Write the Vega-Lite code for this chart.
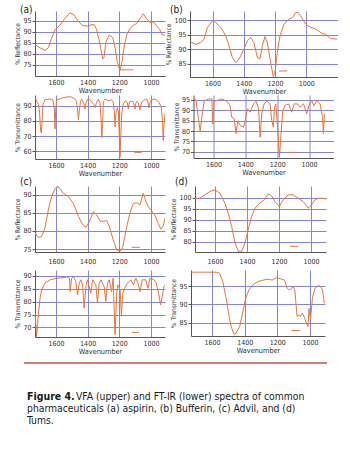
{
"$schema": "https://vega.github.io/schema/vega-lite/v6.json",
"padding": {"left": 14, "top": 5, "right": 0, "bottom": 0},
"background": "white",
"spacing": 6,
"align": "none",
"data": {"values": [
{"p":"a1","s":"c","wn":1732,"v":84.2},{"p":"a1","s":"c","wn":1700,"v":82.8},{"p":"a1","s":"c","wn":1669,"v":81.6},{"p":"a1","s":"c","wn":1648,"v":82.8},{"p":"a1","s":"c","wn":1627,"v":87.2},{"p":"a1","s":"c","wn":1606,"v":90.9},{"p":"a1","s":"c","wn":1574,"v":93.2},{"p":"a1","s":"c","wn":1543,"v":96.2},{"p":"a1","s":"c","wn":1511,"v":98.7},{"p":"a1","s":"c","wn":1486,"v":97.7},{"p":"a1","s":"c","wn":1458,"v":94.7},{"p":"a1","s":"c","wn":1431,"v":92.9},{"p":"a1","s":"c","wn":1401,"v":92.6},{"p":"a1","s":"c","wn":1380,"v":93.2},{"p":"a1","s":"c","wn":1358,"v":93.3},{"p":"a1","s":"c","wn":1343,"v":91},{"p":"a1","s":"c","wn":1322,"v":84.4},{"p":"a1","s":"c","wn":1305,"v":77.7},{"p":"a1","s":"c","wn":1297,"v":78.4},{"p":"a1","s":"c","wn":1284,"v":85.7},{"p":"a1","s":"c","wn":1263,"v":88.6},{"p":"a1","s":"c","wn":1242,"v":87.5},{"p":"a1","s":"c","wn":1227,"v":82.8},{"p":"a1","s":"c","wn":1212,"v":76.2},{"p":"a1","s":"c","wn":1196,"v":72.5},{"p":"a1","s":"c","wn":1183,"v":76.6},{"p":"a1","s":"c","wn":1171,"v":82.8},{"p":"a1","s":"c","wn":1154,"v":88.6},{"p":"a1","s":"c","wn":1133,"v":91.6},{"p":"a1","s":"c","wn":1112,"v":93},{"p":"a1","s":"c","wn":1091,"v":93.8},{"p":"a1","s":"c","wn":1070,"v":96},{"p":"a1","s":"c","wn":1049,"v":98.2},{"p":"a1","s":"c","wn":1028,"v":96},{"p":"a1","s":"c","wn":1007,"v":94.3},{"p":"a1","s":"c","wn":986,"v":94.6},{"p":"a1","s":"c","wn":965,"v":92.8},{"p":"a1","s":"c","wn":944,"v":91},{"p":"a1","s":"c","wn":929,"v":88.6},{"p":"a1","s":"c","wn":912,"v":88.6},
{"p":"a1","s":"b","wn":1196,"v":72.8},{"p":"a1","s":"b","wn":1112,"v":72.8},
{"p":"a2","s":"c","wn":1732,"v":95.8},{"p":"a2","s":"c","wn":1720,"v":93},{"p":"a2","s":"c","wn":1710,"v":91},{"p":"a2","s":"c","wn":1703,"v":85},{"p":"a2","s":"c","wn":1697,"v":74},{"p":"a2","s":"c","wn":1692,"v":72},{"p":"a2","s":"c","wn":1687,"v":80},{"p":"a2","s":"c","wn":1682,"v":91},{"p":"a2","s":"c","wn":1670,"v":94},{"p":"a2","s":"c","wn":1640,"v":94.7},{"p":"a2","s":"c","wn":1620,"v":94},{"p":"a2","s":"c","wn":1610,"v":88},{"p":"a2","s":"c","wn":1606,"v":74.7},{"p":"a2","s":"c","wn":1601,"v":88},{"p":"a2","s":"c","wn":1595,"v":94},{"p":"a2","s":"c","wn":1570,"v":95},{"p":"a2","s":"c","wn":1540,"v":95.8},{"p":"a2","s":"c","wn":1510,"v":96.2},{"p":"a2","s":"c","wn":1485,"v":95},{"p":"a2","s":"c","wn":1470,"v":93},{"p":"a2","s":"c","wn":1462,"v":86},{"p":"a2","s":"c","wn":1458,"v":80.7},{"p":"a2","s":"c","wn":1452,"v":87},{"p":"a2","s":"c","wn":1445,"v":93},{"p":"a2","s":"c","wn":1437,"v":94.5},{"p":"a2","s":"c","wn":1425,"v":92},{"p":"a2","s":"c","wn":1416,"v":88},{"p":"a2","s":"c","wn":1410,"v":92},{"p":"a2","s":"c","wn":1400,"v":94.5},{"p":"a2","s":"c","wn":1385,"v":94},{"p":"a2","s":"c","wn":1374,"v":93},{"p":"a2","s":"c","wn":1362,"v":91},{"p":"a2","s":"c","wn":1353,"v":89},{"p":"a2","s":"c","wn":1345,"v":92},{"p":"a2","s":"c","wn":1332,"v":94.5},{"p":"a2","s":"c","wn":1322,"v":92},{"p":"a2","s":"c","wn":1315,"v":80},{"p":"a2","s":"c","wn":1311,"v":69},{"p":"a2","s":"c","wn":1306,"v":75},{"p":"a2","s":"c","wn":1301,"v":93},{"p":"a2","s":"c","wn":1290,"v":94.5},{"p":"a2","s":"c","wn":1270,"v":93.5},{"p":"a2","s":"c","wn":1250,"v":94},{"p":"a2","s":"c","wn":1240,"v":93},{"p":"a2","s":"c","wn":1232,"v":87},{"p":"a2","s":"c","wn":1227,"v":76},{"p":"a2","s":"c","wn":1222,"v":85},{"p":"a2","s":"c","wn":1217,"v":87},{"p":"a2","s":"c","wn":1212,"v":89},{"p":"a2","s":"c","wn":1206,"v":86},{"p":"a2","s":"c","wn":1200,"v":70},{"p":"a2","s":"c","wn":1196,"v":56},{"p":"a2","s":"c","wn":1191,"v":70},{"p":"a2","s":"c","wn":1185,"v":85},{"p":"a2","s":"c","wn":1180,"v":88},{"p":"a2","s":"c","wn":1175,"v":91.3},{"p":"a2","s":"c","wn":1160,"v":93.6},{"p":"a2","s":"c","wn":1150,"v":92},{"p":"a2","s":"c","wn":1143,"v":88},{"p":"a2","s":"c","wn":1138,"v":92},{"p":"a2","s":"c","wn":1133,"v":93.1},{"p":"a2","s":"c","wn":1115,"v":93},{"p":"a2","s":"c","wn":1105,"v":90},{"p":"a2","s":"c","wn":1101,"v":88},{"p":"a2","s":"c","wn":1096,"v":92},{"p":"a2","s":"c","wn":1091,"v":93.1},{"p":"a2","s":"c","wn":1080,"v":92},{"p":"a2","s":"c","wn":1070,"v":87.4},{"p":"a2","s":"c","wn":1062,"v":92},{"p":"a2","s":"c","wn":1049,"v":93.6},{"p":"a2","s":"c","wn":1028,"v":94.7},{"p":"a2","s":"c","wn":1018,"v":92},{"p":"a2","s":"c","wn":1013,"v":88.7},{"p":"a2","s":"c","wn":1008,"v":92},{"p":"a2","s":"c","wn":997,"v":94},{"p":"a2","s":"c","wn":975,"v":94.7},{"p":"a2","s":"c","wn":960,"v":93.5},{"p":"a2","s":"c","wn":950,"v":92.4},{"p":"a2","s":"c","wn":935,"v":89},{"p":"a2","s":"c","wn":928,"v":80},{"p":"a2","s":"c","wn":923,"v":67},{"p":"a2","s":"c","wn":918,"v":78},{"p":"a2","s":"c","wn":912,"v":84.7},
{"p":"a2","s":"b","wn":1105,"v":59.1},{"p":"a2","s":"b","wn":1059,"v":59.1},
{"p":"b1","s":"c","wn":1745,"v":92.6},{"p":"b1","s":"c","wn":1708,"v":91.7},{"p":"b1","s":"c","wn":1676,"v":92.3},{"p":"b1","s":"c","wn":1655,"v":93.5},{"p":"b1","s":"c","wn":1633,"v":97.6},{"p":"b1","s":"c","wn":1601,"v":99.9},{"p":"b1","s":"c","wn":1580,"v":99.3},{"p":"b1","s":"c","wn":1548,"v":97.6},{"p":"b1","s":"c","wn":1516,"v":94.7},{"p":"b1","s":"c","wn":1495,"v":91.2},{"p":"b1","s":"c","wn":1473,"v":87.1},{"p":"b1","s":"c","wn":1452,"v":85.3},{"p":"b1","s":"c","wn":1431,"v":86.5},{"p":"b1","s":"c","wn":1399,"v":90},{"p":"b1","s":"c","wn":1377,"v":92.9},{"p":"b1","s":"c","wn":1356,"v":94.1},{"p":"b1","s":"c","wn":1335,"v":92.3},{"p":"b1","s":"c","wn":1313,"v":87.1},{"p":"b1","s":"c","wn":1296,"v":86.7},{"p":"b1","s":"c","wn":1281,"v":91.2},{"p":"b1","s":"c","wn":1264,"v":94.4},{"p":"b1","s":"c","wn":1249,"v":92.3},{"p":"b1","s":"c","wn":1228,"v":85.3},{"p":"b1","s":"c","wn":1211,"v":80.5},{"p":"b1","s":"c","wn":1200,"v":81.9},{"p":"b1","s":"c","wn":1185,"v":88.8},{"p":"b1","s":"c","wn":1168,"v":94.7},{"p":"b1","s":"c","wn":1142,"v":98.7},{"p":"b1","s":"c","wn":1110,"v":100.5},{"p":"b1","s":"c","wn":1088,"v":101},{"p":"b1","s":"c","wn":1067,"v":102.8},{"p":"b1","s":"c","wn":1052,"v":102.8},{"p":"b1","s":"c","wn":1035,"v":101.6},{"p":"b1","s":"c","wn":1003,"v":98.7},{"p":"b1","s":"c","wn":971,"v":97.6},{"p":"b1","s":"c","wn":937,"v":97},{"p":"b1","s":"c","wn":900,"v":95.5},{"p":"b1","s":"c","wn":876,"v":95.2},{"p":"b1","s":"c","wn":844,"v":93.7},{"p":"b1","s":"c","wn":801,"v":93.5},
{"p":"b1","s":"b","wn":1174,"v":82.4},{"p":"b1","s":"b","wn":1121,"v":82.4},
{"p":"b2","s":"c","wn":1725,"v":96.3},{"p":"b2","s":"c","wn":1709,"v":94.7},{"p":"b2","s":"c","wn":1694,"v":85.9},{"p":"b2","s":"c","wn":1683,"v":79.9},{"p":"b2","s":"c","wn":1673,"v":86.7},{"p":"b2","s":"c","wn":1658,"v":94.4},{"p":"b2","s":"c","wn":1631,"v":95.5},{"p":"b2","s":"c","wn":1610,"v":95.5},{"p":"b2","s":"c","wn":1604,"v":83.5},{"p":"b2","s":"c","wn":1596,"v":94.5},{"p":"b2","s":"c","wn":1579,"v":94.7},{"p":"b2","s":"c","wn":1548,"v":95.5},{"p":"b2","s":"c","wn":1516,"v":94.4},{"p":"b2","s":"c","wn":1496,"v":92.3},{"p":"b2","s":"c","wn":1485,"v":86.7},{"p":"b2","s":"c","wn":1470,"v":86},{"p":"b2","s":"c","wn":1458,"v":78.7},{"p":"b2","s":"c","wn":1447,"v":85},{"p":"b2","s":"c","wn":1433,"v":82.7},{"p":"b2","s":"c","wn":1411,"v":81.9},{"p":"b2","s":"c","wn":1401,"v":85},{"p":"b2","s":"c","wn":1386,"v":90.7},{"p":"b2","s":"c","wn":1370,"v":89.1},{"p":"b2","s":"c","wn":1349,"v":93.1},{"p":"b2","s":"c","wn":1332,"v":94.4},{"p":"b2","s":"c","wn":1317,"v":90.7},{"p":"b2","s":"c","wn":1307,"v":77},{"p":"b2","s":"c","wn":1297,"v":88.3},{"p":"b2","s":"c","wn":1282,"v":93.1},{"p":"b2","s":"c","wn":1265,"v":94.4},{"p":"b2","s":"c","wn":1245,"v":93.1},{"p":"b2","s":"c","wn":1234,"v":85},{"p":"b2","s":"c","wn":1224,"v":81.9},{"p":"b2","s":"c","wn":1217,"v":91.5},{"p":"b2","s":"c","wn":1209,"v":93.1},{"p":"b2","s":"c","wn":1196,"v":80.3},{"p":"b2","s":"c","wn":1186,"v":67.4},{"p":"b2","s":"c","wn":1176,"v":78.7},{"p":"b2","s":"c","wn":1165,"v":89.9},{"p":"b2","s":"c","wn":1151,"v":92.3},{"p":"b2","s":"c","wn":1129,"v":93.1},{"p":"b2","s":"c","wn":1109,"v":89.1},{"p":"b2","s":"c","wn":1094,"v":93.1},{"p":"b2","s":"c","wn":1073,"v":93.1},{"p":"b2","s":"c","wn":1057,"v":91.5},{"p":"b2","s":"c","wn":1035,"v":93.1},{"p":"b2","s":"c","wn":1015,"v":88.3},{"p":"b2","s":"c","wn":998,"v":93.1},{"p":"b2","s":"c","wn":983,"v":94.7},{"p":"b2","s":"c","wn":969,"v":92.3},{"p":"b2","s":"c","wn":952,"v":94.7},{"p":"b2","s":"c","wn":931,"v":93.1},{"p":"b2","s":"c","wn":916,"v":86.7},{"p":"b2","s":"c","wn":910,"v":78.7},{"p":"b2","s":"c","wn":904,"v":88.3},
{"p":"b2","s":"b","wn":1129,"v":69.7},{"p":"b2","s":"b","wn":1078,"v":69.7},
{"p":"c1","s":"c","wn":1732,"v":79.4},{"p":"c1","s":"c","wn":1711,"v":78.2},{"p":"c1","s":"c","wn":1690,"v":78.5},{"p":"c1","s":"c","wn":1669,"v":80.8},{"p":"c1","s":"c","wn":1648,"v":85.8},{"p":"c1","s":"c","wn":1627,"v":89.5},{"p":"c1","s":"c","wn":1606,"v":91.7},{"p":"c1","s":"c","wn":1585,"v":92.2},{"p":"c1","s":"c","wn":1553,"v":90.4},{"p":"c1","s":"c","wn":1522,"v":89.5},{"p":"c1","s":"c","wn":1490,"v":87.6},{"p":"c1","s":"c","wn":1458,"v":84},{"p":"c1","s":"c","wn":1431,"v":81.7},{"p":"c1","s":"c","wn":1410,"v":81},{"p":"c1","s":"c","wn":1389,"v":82.6},{"p":"c1","s":"c","wn":1364,"v":85.3},{"p":"c1","s":"c","wn":1343,"v":84.4},{"p":"c1","s":"c","wn":1322,"v":82.8},{"p":"c1","s":"c","wn":1301,"v":82.6},{"p":"c1","s":"c","wn":1280,"v":82.9},{"p":"c1","s":"c","wn":1263,"v":81.2},{"p":"c1","s":"c","wn":1242,"v":78},{"p":"c1","s":"c","wn":1217,"v":74.8},{"p":"c1","s":"c","wn":1196,"v":74.4},{"p":"c1","s":"c","wn":1179,"v":75.3},{"p":"c1","s":"c","wn":1158,"v":80.3},{"p":"c1","s":"c","wn":1133,"v":84.9},{"p":"c1","s":"c","wn":1112,"v":87.6},{"p":"c1","s":"c","wn":1091,"v":87.8},{"p":"c1","s":"c","wn":1070,"v":87.2},{"p":"c1","s":"c","wn":1049,"v":90.4},{"p":"c1","s":"c","wn":1032,"v":88.1},{"p":"c1","s":"c","wn":1017,"v":86.7},{"p":"c1","s":"c","wn":997,"v":85.5},{"p":"c1","s":"c","wn":976,"v":84.4},{"p":"c1","s":"c","wn":954,"v":82},{"p":"c1","s":"c","wn":938,"v":80.5},{"p":"c1","s":"c","wn":923,"v":81.5},{"p":"c1","s":"c","wn":912,"v":83.5},
{"p":"c1","s":"b","wn":1122,"v":75.5},{"p":"c1","s":"b","wn":1070,"v":75.5},
{"p":"c2","s":"c","wn":1732,"v":75.6},{"p":"c2","s":"c","wn":1722,"v":66.5},{"p":"c2","s":"c","wn":1711,"v":74.9},{"p":"c2","s":"c","wn":1700,"v":81.4},{"p":"c2","s":"c","wn":1690,"v":84.6},{"p":"c2","s":"c","wn":1669,"v":87.2},{"p":"c2","s":"c","wn":1637,"v":88.5},{"p":"c2","s":"c","wn":1595,"v":89.1},{"p":"c2","s":"c","wn":1543,"v":89.4},{"p":"c2","s":"c","wn":1532,"v":89.7},{"p":"c2","s":"c","wn":1515,"v":89.1},{"p":"c2","s":"c","wn":1510,"v":83.9},{"p":"c2","s":"c","wn":1501,"v":89.1},{"p":"c2","s":"c","wn":1489,"v":89.7},{"p":"c2","s":"c","wn":1474,"v":87.8},{"p":"c2","s":"c","wn":1464,"v":82.6},{"p":"c2","s":"c","wn":1453,"v":87.2},{"p":"c2","s":"c","wn":1443,"v":88.5},{"p":"c2","s":"c","wn":1432,"v":86.5},{"p":"c2","s":"c","wn":1422,"v":77.5},{"p":"c2","s":"c","wn":1411,"v":85.9},{"p":"c2","s":"c","wn":1401,"v":88.5},{"p":"c2","s":"c","wn":1390,"v":85.9},{"p":"c2","s":"c","wn":1380,"v":83.3},{"p":"c2","s":"c","wn":1369,"v":88.5},{"p":"c2","s":"c","wn":1348,"v":86.5},{"p":"c2","s":"c","wn":1338,"v":79.4},{"p":"c2","s":"c","wn":1327,"v":87.2},{"p":"c2","s":"c","wn":1317,"v":88.5},{"p":"c2","s":"c","wn":1296,"v":85.9},{"p":"c2","s":"c","wn":1285,"v":80.1},{"p":"c2","s":"c","wn":1275,"v":87.2},{"p":"c2","s":"c","wn":1264,"v":88.5},{"p":"c2","s":"c","wn":1249,"v":83.9},{"p":"c2","s":"c","wn":1239,"v":89.1},{"p":"c2","s":"c","wn":1227,"v":67.2},{"p":"c2","s":"c","wn":1216,"v":83.9},{"p":"c2","s":"c","wn":1208,"v":86.5},{"p":"c2","s":"c","wn":1195,"v":84.6},{"p":"c2","s":"c","wn":1187,"v":74.9},{"p":"c2","s":"c","wn":1178,"v":83.3},{"p":"c2","s":"c","wn":1166,"v":85.2},{"p":"c2","s":"c","wn":1149,"v":87.2},{"p":"c2","s":"c","wn":1128,"v":88.5},{"p":"c2","s":"c","wn":1111,"v":86.5},{"p":"c2","s":"c","wn":1096,"v":89.1},{"p":"c2","s":"c","wn":1082,"v":87.2},{"p":"c2","s":"c","wn":1070,"v":83.9},{"p":"c2","s":"c","wn":1055,"v":88.5},{"p":"c2","s":"c","wn":1034,"v":88.5},{"p":"c2","s":"c","wn":1019,"v":85.2},{"p":"c2","s":"c","wn":1007,"v":89.1},{"p":"c2","s":"c","wn":982,"v":88.5},{"p":"c2","s":"c","wn":967,"v":87.2},{"p":"c2","s":"c","wn":950,"v":82.6},{"p":"c2","s":"c","wn":940,"v":78.8},{"p":"c2","s":"c","wn":929,"v":82},{"p":"c2","s":"c","wn":919,"v":85.9},{"p":"c2","s":"c","wn":912,"v":86.5},
{"p":"c2","s":"b","wn":1122,"v":68.1},{"p":"c2","s":"b","wn":1076,"v":68.1},
{"p":"d1","s":"c","wn":1725,"v":99.8},{"p":"d1","s":"c","wn":1694,"v":99.8},{"p":"d1","s":"c","wn":1663,"v":101.4},{"p":"d1","s":"c","wn":1631,"v":102.9},{"p":"d1","s":"c","wn":1600,"v":103.6},{"p":"d1","s":"c","wn":1569,"v":102.1},{"p":"d1","s":"c","wn":1538,"v":97.6},{"p":"d1","s":"c","wn":1517,"v":93},{"p":"d1","s":"c","wn":1496,"v":87},{"p":"d1","s":"c","wn":1475,"v":79.4},{"p":"d1","s":"c","wn":1454,"v":75.6},{"p":"d1","s":"c","wn":1433,"v":75.6},{"p":"d1","s":"c","wn":1413,"v":79.4},{"p":"d1","s":"c","wn":1392,"v":85.5},{"p":"d1","s":"c","wn":1371,"v":91.5},{"p":"d1","s":"c","wn":1350,"v":95.3},{"p":"d1","s":"c","wn":1319,"v":97.6},{"p":"d1","s":"c","wn":1292,"v":99.1},{"p":"d1","s":"c","wn":1267,"v":101.8},{"p":"d1","s":"c","wn":1246,"v":100.9},{"p":"d1","s":"c","wn":1225,"v":98.3},{"p":"d1","s":"c","wn":1198,"v":96.1},{"p":"d1","s":"c","wn":1173,"v":99.1},{"p":"d1","s":"c","wn":1142,"v":101.4},{"p":"d1","s":"c","wn":1111,"v":101.4},{"p":"d1","s":"c","wn":1079,"v":99.8},{"p":"d1","s":"c","wn":1048,"v":98.3},{"p":"d1","s":"c","wn":1017,"v":95.3},{"p":"d1","s":"c","wn":996,"v":96.8},{"p":"d1","s":"c","wn":975,"v":99.1},{"p":"d1","s":"c","wn":954,"v":99.8},{"p":"d1","s":"c","wn":923,"v":99.8},{"p":"d1","s":"c","wn":908,"v":99.4},
{"p":"d1","s":"b","wn":1131,"v":77.9},{"p":"d1","s":"b","wn":1079,"v":77.9},
{"p":"d2","s":"c","wn":1729,"v":98.9},{"p":"d2","s":"c","wn":1677,"v":98.9},{"p":"d2","s":"c","wn":1637,"v":98.9},{"p":"d2","s":"c","wn":1575,"v":98.9},{"p":"d2","s":"c","wn":1554,"v":98.6},{"p":"d2","s":"c","wn":1534,"v":96.3},{"p":"d2","s":"c","wn":1514,"v":91.7},{"p":"d2","s":"c","wn":1497,"v":87.1},{"p":"d2","s":"c","wn":1483,"v":83.9},{"p":"d2","s":"c","wn":1466,"v":81.8},{"p":"d2","s":"c","wn":1452,"v":82.1},{"p":"d2","s":"c","wn":1431,"v":83.9},{"p":"d2","s":"c","wn":1411,"v":88},{"p":"d2","s":"c","wn":1394,"v":91.7},{"p":"d2","s":"c","wn":1374,"v":94},{"p":"d2","s":"c","wn":1349,"v":95.4},{"p":"d2","s":"c","wn":1319,"v":96.3},{"p":"d2","s":"c","wn":1288,"v":96.7},{"p":"d2","s":"c","wn":1257,"v":97},{"p":"d2","s":"c","wn":1231,"v":96.7},{"p":"d2","s":"c","wn":1206,"v":97.4},{"p":"d2","s":"c","wn":1175,"v":97},{"p":"d2","s":"c","wn":1155,"v":96.7},{"p":"d2","s":"c","wn":1140,"v":94.4},{"p":"d2","s":"c","wn":1124,"v":94},{"p":"d2","s":"c","wn":1103,"v":94.9},{"p":"d2","s":"c","wn":1093,"v":94},{"p":"d2","s":"c","wn":1087,"v":90.8},{"p":"d2","s":"c","wn":1079,"v":86.7},{"p":"d2","s":"c","wn":1067,"v":87.1},{"p":"d2","s":"c","wn":1058,"v":86.7},{"p":"d2","s":"c","wn":1046,"v":87.6},{"p":"d2","s":"c","wn":1032,"v":86.2},{"p":"d2","s":"c","wn":1022,"v":84.8},{"p":"d2","s":"c","wn":1012,"v":83.9},{"p":"d2","s":"c","wn":1006,"v":88.9},{"p":"d2","s":"c","wn":997,"v":85.7},{"p":"d2","s":"c","wn":985,"v":91.7},{"p":"d2","s":"c","wn":970,"v":94.4},{"p":"d2","s":"c","wn":950,"v":95.2},{"p":"d2","s":"c","wn":936,"v":95},{"p":"d2","s":"c","wn":923,"v":94},{"p":"d2","s":"c","wn":912,"v":90.3},
{"p":"d2","s":"b","wn":1113,"v":82.8},{"p":"d2","s":"b","wn":1062,"v":82.8}
]},
"vconcat": [
{"spacing": 0, "vconcat": [
{"spacing": 0, "hconcat": [
 {"width": 130, "height": 65, "title": {"text": "(a)", "dx": 5, "dy": 1},
  "transform": [{"filter": "datum.p == 'a1'"}],
  "mark": {"type": "line", "clip": true},
  "encoding": {
   "x": {"field": "wn", "type": "quantitative", "scale": {"domain": [912, 1732], "reverse": true, "nice": false, "zero": false}, "axis": {"values": [1600, 1400, 1200, 1000], "format": "d", "title": "Wavenumber"}},
   "y": {"field": "v", "type": "quantitative", "scale": {"domain": [70, 99.5], "nice": false, "zero": false}, "axis": {"values": [75, 80, 85, 90, 95], "title": "% Reflectance"}},
   "detail": {"field": "s"}}},
 {"width": 148, "height": 66, "title": {"text": "(b)", "dx": 4, "dy": 1},
  "transform": [{"filter": "datum.p == 'b1'"}],
  "mark": {"type": "line", "clip": true},
  "encoding": {
   "x": {"field": "wn", "type": "quantitative", "scale": {"domain": [796, 1745], "reverse": true, "nice": false, "zero": false}, "axis": {"values": [1600, 1400, 1200, 1000], "format": "d", "title": "Wavenumber"}},
   "y": {"field": "v", "type": "quantitative", "scale": {"domain": [80.3, 103.3], "nice": false, "zero": false}, "axis": {"values": [85, 90, 95, 100], "title": "% Reflectance"}},
   "detail": {"field": "s"}}}
]},
{"spacing": 7.5, "hconcat": [
 {"width": 130, "height": 64,
  "transform": [{"filter": "datum.p == 'a2'"}],
  "mark": {"type": "line", "clip": true},
  "encoding": {
   "x": {"field": "wn", "type": "quantitative", "scale": {"domain": [912, 1732], "reverse": true, "nice": false, "zero": false}, "axis": {"values": [1600, 1400, 1200, 1000], "format": "d", "title": "Wavenumber"}},
   "y": {"field": "v", "type": "quantitative", "scale": {"domain": [54.7, 97.3], "nice": false, "zero": false}, "axis": {"values": [60, 70, 80, 90], "title": "% Transmittance"}},
   "detail": {"field": "s"}}},
 {"width": 140, "height": 63,
  "transform": [{"filter": "datum.p == 'b2'"}],
  "mark": {"type": "line", "clip": true},
  "encoding": {
   "x": {"field": "wn", "type": "quantitative", "scale": {"domain": [847, 1725], "reverse": true, "nice": false, "zero": false}, "axis": {"values": [1600, 1400, 1200, 1000], "format": "d", "title": "Wavenumber"}},
   "y": {"field": "v", "type": "quantitative", "scale": {"domain": [67, 97.4], "nice": false, "zero": false}, "axis": {"values": [70, 75, 80, 85, 90, 95], "title": "% Transmittance"}},
   "detail": {"field": "s"}}}
]},
{"spacing": 5, "hconcat": [
 {"width": 130, "height": 66, "title": {"text": "(c)", "offset": -1, "dx": 5},
  "transform": [{"filter": "datum.p == 'c1'"}],
  "mark": {"type": "line", "clip": true},
  "encoding": {
   "x": {"field": "wn", "type": "quantitative", "scale": {"domain": [912, 1732], "reverse": true, "nice": false, "zero": false}, "axis": {"values": [1600, 1400, 1200, 1000], "format": "d", "title": null, "labelPadding": 5}},
   "y": {"field": "v", "type": "quantitative", "scale": {"domain": [74.2, 92.4], "nice": false, "zero": false}, "axis": {"values": [75, 80, 85, 90], "title": "% Reflectance"}},
   "detail": {"field": "s"}}},
 {"width": 131, "height": 66, "title": {"text": "(d)", "offset": -1, "dx": 4},
  "transform": [{"filter": "datum.p == 'd1'"}],
  "mark": {"type": "line", "clip": true},
  "encoding": {
   "x": {"field": "wn", "type": "quantitative", "scale": {"domain": [906, 1725], "reverse": true, "nice": false, "zero": false}, "axis": {"values": [1600, 1400, 1200, 1000], "format": "d", "title": null, "labelPadding": 5}},
   "y": {"field": "v", "type": "quantitative", "scale": {"domain": [75.3, 105.4], "nice": false, "zero": false}, "axis": {"values": [80, 85, 90, 95, 100], "title": "% Reflectance"}},
   "detail": {"field": "s"}}}
]}
]},
{"spacing": 5, "hconcat": [
 {"width": 130, "height": 67,
  "transform": [{"filter": "datum.p == 'c2'"}],
  "mark": {"type": "line", "clip": true},
  "encoding": {
   "x": {"field": "wn", "type": "quantitative", "scale": {"domain": [912, 1732], "reverse": true, "nice": false, "zero": false}, "axis": {"values": [1600, 1400, 1200, 1000], "format": "d", "title": "Wavenumber"}},
   "y": {"field": "v", "type": "quantitative", "scale": {"domain": [66.3, 92.3], "nice": false, "zero": false}, "axis": {"values": [70, 75, 80, 85, 90], "title": "% Transmittance"}},
   "detail": {"field": "s"}}},
 {"width": 134, "height": 66,
  "transform": [{"filter": "datum.p == 'd2'"}],
  "mark": {"type": "line", "clip": true},
  "encoding": {
   "x": {"field": "wn", "type": "quantitative", "scale": {"domain": [908, 1729], "reverse": true, "nice": false, "zero": false}, "axis": {"values": [1600, 1400, 1200, 1000], "format": "d", "title": "Wavenumber"}},
   "y": {"field": "v", "type": "quantitative", "scale": {"domain": [81.3, 99.5], "nice": false, "zero": false}, "axis": {"values": [85, 90, 95], "title": "% Transmittance"}},
   "detail": {"field": "s"}}}
]},
{"width": 303, "height": 80,
 "data": {"values": [
  {"line": 1, "part": "bold", "txt": "Figure 4."},
  {"line": 1, "part": "rest", "txt": "VFA (upper) and FT-IR (lower) spectra of common"},
  {"line": 2, "part": "next", "txt": "pharmaceuticals (a) aspirin, (b) Bufferin, (c) Advil, and (d)"},
  {"line": 3, "part": "next", "txt": "Tums."}
 ]},
 "layer": [
  {"transform": [{"filter": "datum.part == 'bold'"}],
   "mark": {"type": "rule", "color": "#c0504d", "strokeWidth": 1.5},
   "encoding": {"y": {"value": 2}, "x": {"value": -11}, "x2": {"value": 292}}},
  {"transform": [{"filter": "datum.part == 'bold'"}],
   "mark": {"type": "text", "align": "left", "baseline": "alphabetic", "fontWeight": "bold", "fontSize": 10.5, "color": "#1a1a1a", "x": -8},
   "encoding": {"y": {"field": "line", "type": "quantitative", "scale": {"domain": [-2.25, 4.417], "reverse": true}, "axis": null}, "text": {"field": "txt"}}},
  {"transform": [{"filter": "datum.part == 'rest'"}],
   "mark": {"type": "text", "align": "left", "baseline": "alphabetic", "fontSize": 10.3, "color": "#1a1a1a", "x": 41},
   "encoding": {"y": {"field": "line", "type": "quantitative", "scale": {"domain": [-2.25, 4.417], "reverse": true}, "axis": null}, "text": {"field": "txt"}}},
  {"transform": [{"filter": "datum.part == 'next'"}],
   "mark": {"type": "text", "align": "left", "baseline": "alphabetic", "fontSize": 10.3, "color": "#1a1a1a", "x": -8},
   "encoding": {"y": {"field": "line", "type": "quantitative", "scale": {"domain": [-2.25, 4.417], "reverse": true}, "axis": null}, "text": {"field": "txt"}}}
 ]}
],
"config": {
 "font": "DejaVu Sans Condensed, sans-serif",
 "view": {"stroke": null},
 "axis": {"labelFontSize": 7, "titleFontSize": 6.5, "titleFontWeight": "normal", "labelColor": "#333", "titleColor": "#333", "domainColor": "#555", "domainWidth": 1, "tickColor": "#555", "gridColor": "#8585d6", "gridWidth": 1, "minExtent": 0},
 "axisX": {"ticks": false, "labelPadding": 2, "titlePadding": 1.5, "labelFlush": false, "titleFontSize": 7.3},
 "axisY": {"tickSize": 3, "labelPadding": 1, "titlePadding": 2},
 "title": {"fontSize": 10, "fontWeight": "normal", "anchor": "start", "frame": "bounds", "color": "#222", "offset": -3},
 "line": {"color": "#e8743b", "strokeWidth": 1}
}
}
